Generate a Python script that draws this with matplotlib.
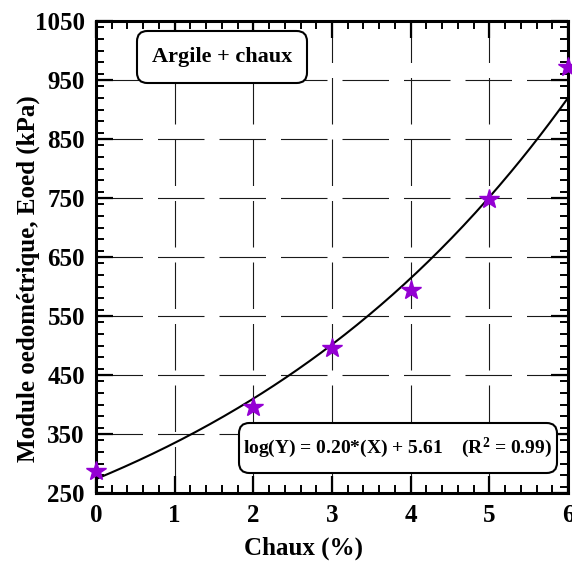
import numpy as np
import matplotlib
matplotlib.use("Agg")
import matplotlib.pyplot as plt
from matplotlib.ticker import MultipleLocator
from matplotlib.patches import FancyBboxPatch

# Measured data: lime content vs oedometric modulus
chaux = [0, 2, 3, 4, 5, 6]
eoed = [288, 396, 495, 594, 749, 972]

# Exponential fit: log(Y) = a*X + b
fit_a = 0.202
fit_b = 5.612
fit_r2 = 0.99

x_ticks = [0, 1, 2, 3, 4, 5, 6]
y_ticks = [250, 350, 450, 550, 650, 750, 850, 950, 1050]

plt.rcParams['font.family'] = ['Liberation Serif', 'DejaVu Serif']
plt.rcParams['font.weight'] = 'bold'
plt.rcParams['mathtext.fontset'] = 'custom'
plt.rcParams['mathtext.rm'] = 'Liberation Serif:bold'
plt.rcParams['mathtext.it'] = 'Liberation Serif:bold'
plt.rcParams['mathtext.bf'] = 'Liberation Serif:bold'
plt.rcParams['mathtext.default'] = 'rm'

DPI = 100
fig = plt.figure(figsize=(5.72, 5.63), dpi=DPI)
ax = fig.add_axes([96 / 572, 1 - 493 / 563, (568 - 96) / 572, (493 - 21) / 563])

ax.set_xlim(0, 6)
ax.set_ylim(250, 1050)
ax.set_xticks(x_ticks)
ax.set_yticks(y_ticks)
ax.xaxis.set_minor_locator(MultipleLocator(0.2))
ax.yaxis.set_minor_locator(MultipleLocator(20))
ax.tick_params(which='both', direction='in', top=True, right=True)
ax.tick_params(which='major', length=12, width=1.6, labelsize=18, pad=8)
ax.tick_params(which='minor', length=6, width=1.4)
for lbl in ax.get_xticklabels() + ax.get_yticklabels():
    lbl.set_fontweight('bold')
for s in ax.spines.values():
    s.set_linewidth(2.2)

# Dashed grid: 46.5 px on, 15 px off
glw = 0.8
on_pt = 46.5 * 72 / DPI / glw
off_pt = 15 * 72 / DPI / glw
ax.grid(True, which='major', color='#1a1a1a', linewidth=glw,
        linestyle=(0, (on_pt, off_pt)))
ax.set_axisbelow(True)

# Fitted curve
xs = np.linspace(0, 6, 200)
ax.plot(xs, np.exp(fit_a * xs + fit_b), color='black', lw=1.5, zorder=3)

# Data points
ax.plot(chaux, eoed, linestyle='none', marker='*', markersize=15,
        color='#9400D3', markeredgecolor='#9400D3', clip_on=False, zorder=4)

ax.set_xlabel('Chaux (%)', fontsize=18, fontweight='bold')
ax.set_ylabel('Module oedométrique, Eoed (kPa)', fontsize=18, fontweight='bold')
ax.xaxis.set_label_coords((304 - 96) / 472, -(537 - 493) / 472)
ax.yaxis.set_label_coords(-(96 - 40) / 472, (493 - 279) / 472)


def rounded_box(x0, y0, x1, y1):
    """Rounded white box given in axes pixel offsets (axes is 472 px square)."""
    s = 472.0
    patch = FancyBboxPatch((x0 / s, y0 / s), (x1 - x0) / s, (y1 - y0) / s,
                           boxstyle='round,pad=0,rounding_size=0.022',
                           transform=ax.transAxes, facecolor='white',
                           edgecolor='black', linewidth=1.5, zorder=5,
                           clip_on=False)
    ax.add_patch(patch)
    return ((x0 + x1) / 2 / s, (y0 + y1) / 2 / s)


cx, cy = rounded_box(137 - 96, 493 - 83, 307 - 96, 493 - 31)
ax.text(cx, cy, 'Argile + chaux', transform=ax.transAxes, ha='center',
        va='center', fontsize=16, fontweight='bold', zorder=6)

eq = 'log(Y) = {:.2f}*(X) + {:.2f}    (R$^{{2}}$ = {:.2f})'.format(fit_a, fit_b, fit_r2)
cx, cy = rounded_box(239 - 96, 493 - 473, 557 - 96, 493 - 423)
ax.text(cx, cy, eq, transform=ax.transAxes, ha='center', va='center',
        fontsize=14, fontweight='bold', zorder=6)

fig.savefig('out.png', dpi=DPI)
